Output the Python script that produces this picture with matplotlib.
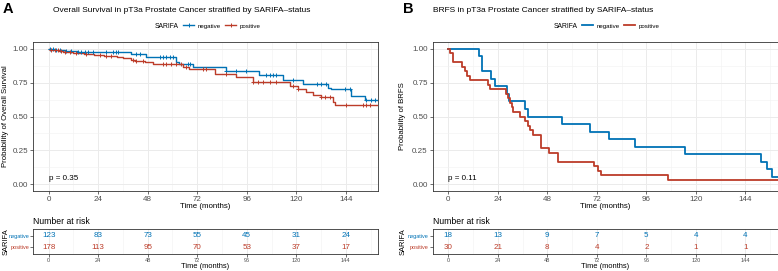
import numpy as np
import matplotlib
matplotlib.use('Agg')
import matplotlib.pyplot as plt
from matplotlib.lines import Line2D

plt.rcParams['font.family'] = ['Liberation Sans', 'DejaVu Sans']

# =============================================================================
# Data
# =============================================================================

# Panel A: overall survival, step times [months] and survival after each step
os_neg_t = [0, 3, 8, 14, 40, 47, 61.5, 63, 70, 86, 102, 113.6, 123.3, 135.4, 137, 146.7, 153.2, 165]
os_neg_s = [1.0, 0.992, 0.983, 0.975, 0.958, 0.94, 0.905, 0.889, 0.866, 0.834, 0.81,
            0.773, 0.74, 0.71, 0.70, 0.648, 0.624, 0.624]
os_pos_t = [0, 1, 3, 5, 7, 12, 17, 22, 27, 33, 36, 40, 42, 46.5, 50.5, 53.8, 65, 68,
            80.5, 91, 99, 116.8, 120.8, 124.9, 128.1, 132, 137.8, 138.6, 165]
os_pos_s = [1.0, 0.994, 0.989, 0.983, 0.978, 0.972, 0.96, 0.952, 0.946, 0.938, 0.93,
            0.92, 0.912, 0.903, 0.889, 0.884, 0.867, 0.851, 0.817, 0.79, 0.755, 0.728,
            0.703, 0.68, 0.661, 0.645, 0.61, 0.582, 0.582]

# censoring times [months]
os_neg_cens = [0.5, 2.1, 3.7, 5.3, 8.6, 11, 14.2, 15.8, 17.5, 19, 21.5, 28, 31.2, 32.8,
               33.6, 42.5, 44.1, 53.8, 55.4, 57, 58.7, 60.3, 67.5, 68.3, 86.1, 91,
               95.8, 105.5, 107.1, 108.7, 110.4, 118.4, 129.8, 132.2, 134.6, 143.5,
               145.9, 154, 156.4, 158]
os_pos_cens = [1.3, 2.9, 4.5, 6.1, 7.8, 10.2, 13.4, 18.3, 24.7, 28, 30.4, 40.9, 42.5,
               45.7, 55.4, 57, 59.5, 61.9, 64.3, 66.7, 74.8, 76.4, 86.1, 99, 101.5,
               103.9, 107.1, 110.4, 118.4, 120.8, 132.2, 133.8, 136.2, 144.3, 152.3,
               154, 155.6]

# Panel B: BRFS
bf_neg_t = [0, 14.8, 16.4, 20.8, 22.8, 28.3, 29.6, 37.2, 38.7, 55, 68.8, 77.8, 90.5,
            114.6, 151.5, 154.4, 157, 165]
bf_neg_s = [1.0, 0.944, 0.833, 0.778, 0.722, 0.667, 0.611, 0.556, 0.5, 0.444, 0.389,
            0.333, 0.278, 0.222, 0.167, 0.111, 0.056, 0.056]
bf_pos_t = [0, 1.0, 2.2, 6.8, 7.9, 9.0, 10.6, 19.1, 20.0, 28.0, 29.0, 30.0, 30.7, 31.2,
            34.6, 37.3, 38.4, 39.6, 40.9, 44.9, 49.0, 53.0, 70.7, 72.5, 73.8, 106.6, 165]
bf_pos_s = [1.0, 0.967, 0.9, 0.867, 0.833, 0.8, 0.767, 0.733, 0.7, 0.667, 0.633, 0.6,
            0.567, 0.533, 0.5, 0.467, 0.433, 0.4, 0.367, 0.267, 0.233, 0.167, 0.133,
            0.1, 0.067, 0.033, 0.033]

risk_times = [0, 24, 48, 72, 96, 120, 144]
os_risk_neg = [123, 83, 73, 55, 45, 31, 24]
os_risk_pos = [178, 113, 95, 70, 53, 37, 17]
bf_risk_neg = [18, 13, 9, 7, 5, 4, 4]
bf_risk_pos = [30, 21, 8, 4, 2, 1, 1]

groups = ['negative', 'positive']
BLUE = '#0072B5'
RED = '#BC3C29'

# =============================================================================
# Layout helpers (pixel coordinates, origin top-left)
# =============================================================================
W, H = 778, 271
fig = plt.figure(figsize=(W / 100, H / 100), dpi=100)


def box(l, t, r, b):
    return [l / W, 1 - b / H, (r - l) / W, (b - t) / H]


def ftext(x, y, s, **kw):
    fig.text(x / W, 1 - y / H, s, **kw)


XLIM = (-7.6, 159.6)
XT = np.arange(0, 145, 24)
XMIN = np.arange(12, 160, 24)
GRID = '#EBEBEB'
EDGE = '#333333'


def style(ax, fs, pad):
    for sp in ax.spines.values():
        sp.set_color(EDGE)
        sp.set_linewidth(0.6)
    ax.tick_params(length=2, width=0.5, color=EDGE, labelsize=fs, labelcolor='#4D4D4D', pad=pad)
    ax.set_xlim(*XLIM)
    ax.set_xticks(XT)


def surv_at(t, times, surv):
    idx = np.searchsorted(times, t, side='right') - 1
    return np.asarray(surv)[idx]


def km_panel(rect, times, survs, cens, lw):
    ax = fig.add_axes(rect)
    style(ax, 5.8, 1.5)
    ax.set_ylim(-0.05, 1.05)
    ax.set_yticks([0, 0.25, 0.5, 0.75, 1.0])
    ax.set_yticklabels(['0.00', '0.25', '0.50', '0.75', '1.00'])
    ax.set_xticks(XMIN, minor=True)
    ax.set_yticks([0.125, 0.375, 0.625, 0.875], minor=True)
    ax.tick_params(which='minor', length=0)
    ax.grid(True, which='major', color=GRID, lw=0.7)
    ax.grid(True, which='minor', color='#F2F2F2', lw=0.4)
    ax.set_axisbelow(True)
    for t, s, c, col in zip(times, survs, cens, [BLUE, RED]):
        ax.step(t, s, where='post', color=col, lw=lw, zorder=3)
        if c:
            ax.plot(c, surv_at(np.array(c), t, s), '+', color=col, ms=3.5, mew=0.7, zorder=4)
    return ax


def risk_panel(rect, neg, pos):
    ax = fig.add_axes(rect)
    style(ax, 4, 0.8)
    ax.set_ylim(0.4, 2.6)
    ax.set_yticks([2, 1])
    ax.set_yticklabels(groups)
    for lab, col in zip(ax.get_yticklabels(), [BLUE, RED]):
        lab.set_color(col)
    ax.set_xticks(XMIN, minor=True)
    ax.tick_params(which='minor', length=0)
    ax.grid(True, which='major', axis='x', color=GRID, lw=0.7)
    ax.grid(True, which='minor', axis='x', color='#F2F2F2', lw=0.4)
    ax.set_axisbelow(True)
    for x, a, b in zip(risk_times, neg, pos):
        ax.text(x, 2, str(a), color=BLUE, ha='center', va='center', fontsize=5.8)
        ax.text(x, 1, str(b), color=RED, ha='center', va='center', fontsize=5.8)
    return ax


# =============================================================================
# Panel A
# =============================================================================
axA = km_panel(box(33, 42, 378, 191), [os_neg_t, os_pos_t], [os_neg_s, os_pos_s],
               [os_neg_cens, os_pos_cens], 1.0)
axA.text(0, 0.045, 'p = 0.35', fontsize=5.8, ha='left', va='center')
rA = risk_panel(box(33, 229, 378, 254), os_risk_neg, os_risk_pos)

# =============================================================================
# Panel B
# =============================================================================
axB = km_panel(box(432.7, 42, 777.5, 191), [bf_neg_t, bf_pos_t], [bf_neg_s, bf_pos_s],
               [[], []], 1.3)
axB.text(0, 0.045, 'p = 0.11', fontsize=5.8, ha='left', va='center')
rB = risk_panel(box(432.7, 229, 777.5, 254), bf_risk_neg, bf_risk_pos)

# =============================================================================
# Texts: letters, titles, legends, axis labels
# =============================================================================
for x0, letter, title, tx, ylab, marker, lw in [
        (0, 'A', 'Overall Survival in pT3a Prostate Cancer stratified by SARIFA\u2013status', 53,
         'Probability of Overall Survival', '+', 1.0),
        (400, 'B', 'BRFS in pT3a Prostate Cancer stratified by SARIFA\u2013status', 433,
         'Probability of BRFS', None, 1.3)]:
    ftext(x0 + 3, 9, letter, fontsize=10.5, fontweight='bold', ha='left', va='center')
    ftext(tx, 10, title, fontsize=6.0, ha='left', va='center')
    ax_l = 33 if x0 == 0 else 432.7
    ax_r = 378 if x0 == 0 else 777.5
    mid = (ax_l + ax_r) / 2
    leg_x = 155 if x0 == 0 else 554
    ftext(leg_x, 26, 'SARIFA', fontsize=4.9, ha='left', va='center')
    handles = [Line2D([], [], color=BLUE, lw=lw, marker=marker, ms=3.5, mew=0.7),
               Line2D([], [], color=RED, lw=lw, marker=marker, ms=3.5, mew=0.7)]
    fig.legend(handles, groups, loc='center left', bbox_to_anchor=((leg_x + 28) / W, 1 - 26 / H),
               ncol=2, frameon=False, fontsize=4.4, handlelength=1.8, handletextpad=0.6,
               columnspacing=0.7, borderpad=0, borderaxespad=0)
    lab_x = 6 if x0 == 0 else 403
    ftext(lab_x, 116.5, ylab, fontsize=5.6, rotation=90, ha='center', va='center')
    ftext(mid, 207, 'Time (months)', fontsize=5.7, ha='center', va='center')
    ftext(ax_l, 221.5, 'Number at risk', fontsize=6.2, ha='left', va='center')
    ftext(lab_x, 241.5, 'SARIFA', fontsize=5.4, rotation=90, ha='center', va='center')
    ftext(mid, 267, 'Time (months)', fontsize=5.4, ha='center', va='center')

fig.savefig('out.png', dpi=100, facecolor='white')
